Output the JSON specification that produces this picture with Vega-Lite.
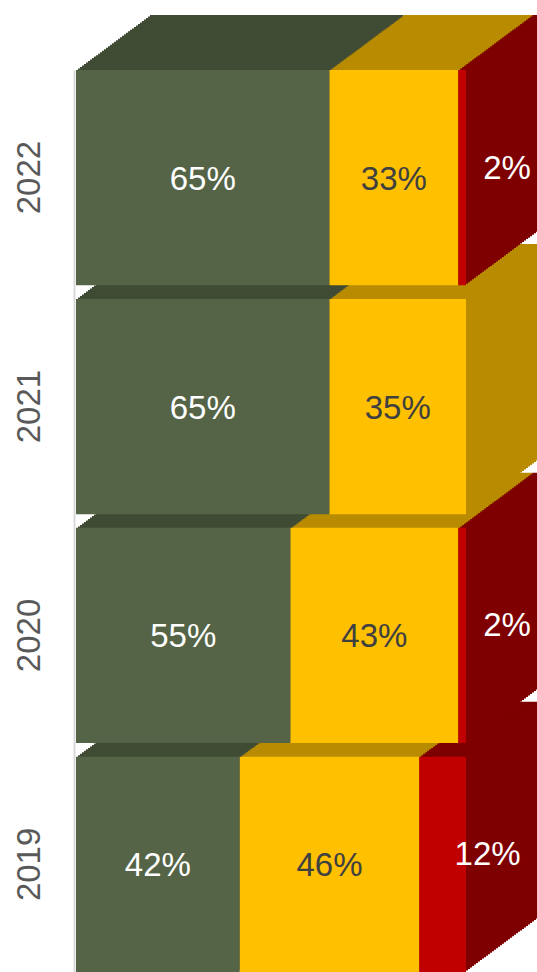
{
  "$schema": "https://vega.github.io/schema/vega-lite/v6.json",
  "autosize": "none",
  "width": 461,
  "height": 902,
  "padding": {"left": 76, "top": 70, "right": 0, "bottom": 0},
  "background": "white",
  "config": {"view": {"stroke": null}},
  "data": {
    "values": [
      {"year": 2022, "cat": "Green", "rank": 1, "value": 0.65},
      {"year": 2022, "cat": "Yellow", "rank": 2, "value": 0.33},
      {"year": 2022, "cat": "Red", "rank": 3, "value": 0.02},
      {"year": 2021, "cat": "Green", "rank": 1, "value": 0.65},
      {"year": 2021, "cat": "Yellow", "rank": 2, "value": 0.35},
      {"year": 2020, "cat": "Green", "rank": 1, "value": 0.55},
      {"year": 2020, "cat": "Yellow", "rank": 2, "value": 0.43},
      {"year": 2020, "cat": "Red", "rank": 3, "value": 0.02},
      {"year": 2019, "cat": "Green", "rank": 1, "value": 0.42},
      {"year": 2019, "cat": "Yellow", "rank": 2, "value": 0.46},
      {"year": 2019, "cat": "Red", "rank": 3, "value": 0.12}
    ]
  },
  "encoding": {
    "y": {
      "field": "year", "type": "ordinal", "sort": "descending",
      "scale": {"paddingInner": 0.06, "paddingOuter": 0},
      "axis": {
        "title": null, "ticks": false, "labelAngle": -90, "labelFontSize": 33,
        "labelFont": "Liberation Sans Narrow, Liberation Sans", "labelColor": "#595959",
        "labelPadding": 28, "domainColor": "#d9d9d9", "domainWidth": 2, "offset": 2
      }
    },
    "x": {
      "field": "value", "type": "quantitative", "stack": "zero",
      "scale": {"domain": [0, 1], "range": [0, 390]}, "axis": null
    },
    "order": {"field": "rank", "type": "quantitative"},
    "color": {
      "field": "cat", "type": "nominal",
      "scale": {"domain": ["Green", "Yellow", "Red"], "range": ["#404b34", "#b88b00", "#7e0000"]},
      "legend": null
    }
  },
  "layer": [
    {"mark": {"type": "bar", "xOffset": 74, "x2Offset": 74, "yOffset": -55, "y2Offset": -55}},
    {"mark": {"type": "bar", "xOffset": 72, "x2Offset": 72, "yOffset": -53.51, "y2Offset": -53.51}},
    {"mark": {"type": "bar", "xOffset": 70, "x2Offset": 70, "yOffset": -52.03, "y2Offset": -52.03}},
    {"mark": {"type": "bar", "xOffset": 68, "x2Offset": 68, "yOffset": -50.54, "y2Offset": -50.54}},
    {"mark": {"type": "bar", "xOffset": 66, "x2Offset": 66, "yOffset": -49.05, "y2Offset": -49.05}},
    {"mark": {"type": "bar", "xOffset": 64, "x2Offset": 64, "yOffset": -47.57, "y2Offset": -47.57}},
    {"mark": {"type": "bar", "xOffset": 62, "x2Offset": 62, "yOffset": -46.08, "y2Offset": -46.08}},
    {"mark": {"type": "bar", "xOffset": 60, "x2Offset": 60, "yOffset": -44.59, "y2Offset": -44.59}},
    {"mark": {"type": "bar", "xOffset": 58, "x2Offset": 58, "yOffset": -43.11, "y2Offset": -43.11}},
    {"mark": {"type": "bar", "xOffset": 56, "x2Offset": 56, "yOffset": -41.62, "y2Offset": -41.62}},
    {"mark": {"type": "bar", "xOffset": 54, "x2Offset": 54, "yOffset": -40.14, "y2Offset": -40.14}},
    {"mark": {"type": "bar", "xOffset": 52, "x2Offset": 52, "yOffset": -38.65, "y2Offset": -38.65}},
    {"mark": {"type": "bar", "xOffset": 50, "x2Offset": 50, "yOffset": -37.16, "y2Offset": -37.16}},
    {"mark": {"type": "bar", "xOffset": 48, "x2Offset": 48, "yOffset": -35.68, "y2Offset": -35.68}},
    {"mark": {"type": "bar", "xOffset": 46, "x2Offset": 46, "yOffset": -34.19, "y2Offset": -34.19}},
    {"mark": {"type": "bar", "xOffset": 44, "x2Offset": 44, "yOffset": -32.7, "y2Offset": -32.7}},
    {"mark": {"type": "bar", "xOffset": 42, "x2Offset": 42, "yOffset": -31.22, "y2Offset": -31.22}},
    {"mark": {"type": "bar", "xOffset": 40, "x2Offset": 40, "yOffset": -29.73, "y2Offset": -29.73}},
    {"mark": {"type": "bar", "xOffset": 38, "x2Offset": 38, "yOffset": -28.24, "y2Offset": -28.24}},
    {"mark": {"type": "bar", "xOffset": 36, "x2Offset": 36, "yOffset": -26.76, "y2Offset": -26.76}},
    {"mark": {"type": "bar", "xOffset": 34, "x2Offset": 34, "yOffset": -25.27, "y2Offset": -25.27}},
    {"mark": {"type": "bar", "xOffset": 32, "x2Offset": 32, "yOffset": -23.78, "y2Offset": -23.78}},
    {"mark": {"type": "bar", "xOffset": 30, "x2Offset": 30, "yOffset": -22.3, "y2Offset": -22.3}},
    {"mark": {"type": "bar", "xOffset": 28, "x2Offset": 28, "yOffset": -20.81, "y2Offset": -20.81}},
    {"mark": {"type": "bar", "xOffset": 26, "x2Offset": 26, "yOffset": -19.32, "y2Offset": -19.32}},
    {"mark": {"type": "bar", "xOffset": 24, "x2Offset": 24, "yOffset": -17.84, "y2Offset": -17.84}},
    {"mark": {"type": "bar", "xOffset": 22, "x2Offset": 22, "yOffset": -16.35, "y2Offset": -16.35}},
    {"mark": {"type": "bar", "xOffset": 20, "x2Offset": 20, "yOffset": -14.86, "y2Offset": -14.86}},
    {"mark": {"type": "bar", "xOffset": 18, "x2Offset": 18, "yOffset": -13.38, "y2Offset": -13.38}},
    {"mark": {"type": "bar", "xOffset": 16, "x2Offset": 16, "yOffset": -11.89, "y2Offset": -11.89}},
    {"mark": {"type": "bar", "xOffset": 14, "x2Offset": 14, "yOffset": -10.41, "y2Offset": -10.41}},
    {"mark": {"type": "bar", "xOffset": 12, "x2Offset": 12, "yOffset": -8.92, "y2Offset": -8.92}},
    {"mark": {"type": "bar", "xOffset": 10, "x2Offset": 10, "yOffset": -7.43, "y2Offset": -7.43}},
    {"mark": {"type": "bar", "xOffset": 8, "x2Offset": 8, "yOffset": -5.95, "y2Offset": -5.95}},
    {"mark": {"type": "bar", "xOffset": 6, "x2Offset": 6, "yOffset": -4.46, "y2Offset": -4.46}},
    {"mark": {"type": "bar", "xOffset": 4, "x2Offset": 4, "yOffset": -2.97, "y2Offset": -2.97}},
    {"mark": {"type": "bar", "xOffset": 2, "x2Offset": 2, "yOffset": -1.49, "y2Offset": -1.49}},
    {
      "mark": {"type": "bar"},
      "encoding": {
        "fill": {
          "field": "cat", "type": "nominal",
          "scale": {"domain": ["Green", "Yellow", "Red"], "range": ["#556446", "#ffc000", "#c00000"]},
          "legend": null
        }
      }
    },
    {
      "mark": {"type": "text", "fontSize": 33, "font": "Liberation Sans Narrow, Liberation Sans", "yOffset": 2},
      "encoding": {
        "x": {"field": "value", "type": "quantitative", "stack": "zero", "bandPosition": 0.5},
        "text": {"field": "value", "type": "quantitative", "format": ".0%"},
        "color": {"condition": {"test": "datum.cat === 'Yellow'", "value": "#404040"}, "value": "#ffffff"},
        "opacity": {"condition": {"test": "datum.cat === 'Red'", "value": 0}, "value": 1}
      }
    },
    {
      "mark": {"type": "text", "fontSize": 33, "font": "Liberation Sans Narrow, Liberation Sans", "xOffset": 45, "yOffset": -9},
      "encoding": {
        "x": {"field": "value", "type": "quantitative", "stack": "zero", "bandPosition": 0.5},
        "text": {"field": "value", "type": "quantitative", "format": ".0%"},
        "color": {"value": "#ffffff"},
        "opacity": {"condition": {"test": "datum.cat === 'Red'", "value": 1}, "value": 0}
      }
    }
  ]
}
